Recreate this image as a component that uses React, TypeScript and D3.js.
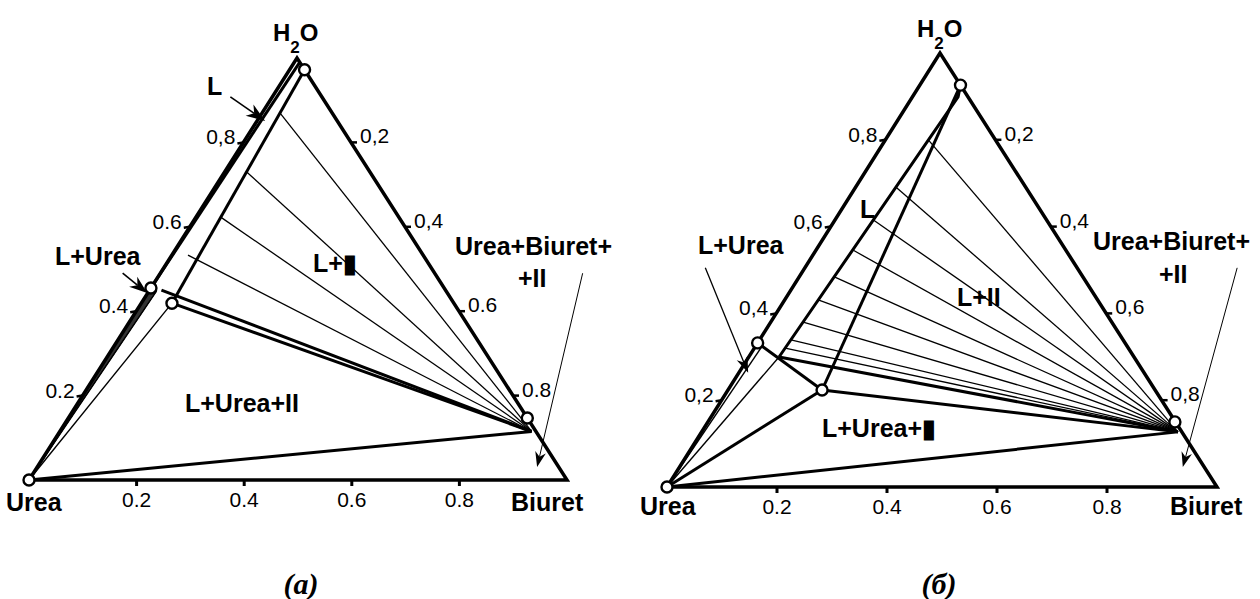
import React from 'react';
import { scaleLinear, line } from 'd3';

// composition = [water fraction, biuret fraction]; urea is the remainder
type Comp = [number, number];

const tickValues = [0.2, 0.4, 0.6, 0.8];
const bottomTickLabels = ['0.2', '0.4', '0.6', '0.8'];

// ---- diagram (a)
const leftTickLabelsA = ['0.2', '0.4', '0.6', '0,8'];
const rightTickLabelsA = ['0,2', '0,4', '0.6', '0.8'];
const circlesA: Comp[] = [[0, 0], [0.972, 0.028], [0.455, 0], [0.419, 0.057], [0.147, 0.853]];
const liquidusA: Comp[] = [[0.455, 0], [0.988, 0.01]];
const boundaryA: Comp[] = [[0.419, 0.057], [0.972, 0.028]];
const compoundA: Comp = [0.115, 0.877];
const toCompoundA: Comp[] = [[0.45, 0.022], [0.419, 0.057]];
const ureaRaysA: Comp[] = [[0.447, 0.014], [0.419, 0.057]];
const hatchA: Comp[] = [[0, 0], [0.455, 0], [0.447, 0.014]];
const tieStartsA: Comp[] = [[0.87, 0.033], [0.73, 0.041], [0.623, 0.046], [0.533, 0.03]];
const arrowsA: { from: Comp; to: Comp; head: number; w: number }[] = [
  { from: [0.908, -0.078], to: [0.851, 0.015], head: 19, w: 1.6 },
  { from: [0.49, -0.07], to: [0.443, -0.001], head: 18, w: 1.6 },
  { from: [0.49, 0.785], to: [0.031, 0.929], head: 15, w: 1 },
];

// ---- diagram (b)
const leftTickLabelsB = ['0,2', '0,4', '0,6', '0,8'];
const rightTickLabelsB = ['0,2', '0,4', '0,6', '0,8'];
const circlesB: Comp[] = [[0, 0], [0.926, 0.074], [0.332, 0], [0.2235, 0.171], [0.15, 0.849]];
const liquidusB: Comp[] = [[0.2995, 0.055], [0.899, 0.083], [0.926, 0.074]];
const boundaryB: Comp[] = [[0.2235, 0.171], [0.926, 0.074]];
const eutonicB: Comp[] = [[0.332, 0], [0.2235, 0.171]];
const compoundB: Comp = [0.127, 0.866];
const toCompoundB: Comp[] = [[0.2995, 0.055], [0.2235, 0.171]];
const ureaRaysB: Comp[] = [[0.325, 0.012], [0.2995, 0.055], [0.2235, 0.171]];
const tieStartsB: Comp[] = [
  [0.32, 0.056], [0.339, 0.057], [0.38, 0.059], [0.431, 0.061], [0.484, 0.064],
  [0.546, 0.067], [0.615, 0.07], [0.691, 0.073], [0.8, 0.078],
];
const arrowsB: { from: Comp; to: Comp; head: number; w: number }[] = [
  { from: [0.505, -0.181], to: [0.263, 0.017], head: 16, w: 1.3 },
  { from: [0.505, 0.786], to: [0.046, 0.915], head: 15, w: 1 },
];

const frameA = { left: 29, right: 567, apexX: 297, baseY: 480, apexY: 58 };
const frameB = { left: 667, right: 1217, apexX: 940, baseY: 487, apexY: 53 };

const sans = '"Liberation Sans", Arial, sans-serif';

type Frame = typeof frameA;

const project = (f: Frame) => {
  const yScale = scaleLinear().domain([0, 1]).range([f.baseY, f.apexY]);
  const xBiuret = scaleLinear().domain([0, 1]).range([f.left, f.right]);
  const xWater = scaleLinear().domain([0, 1]).range([0, f.apexX - f.left]);
  return (c: Comp): [number, number] => [xBiuret(c[1]) + xWater(c[0]), yScale(c[0])];
};

const Arrow = ({ p, a }: { p: (c: Comp) => [number, number]; a: { from: Comp; to: Comp; head: number; w: number } }) => {
  const [x1, y1] = p(a.from);
  const [x2, y2] = p(a.to);
  const ang = Math.atan2(y2 - y1, x2 - x1);
  const hw = a.head * 0.36;
  const bx = x2 - a.head * Math.cos(ang);
  const by = y2 - a.head * Math.sin(ang);
  const nx = -Math.sin(ang) * hw;
  const ny = Math.cos(ang) * hw;
  const mx = x2 - a.head * 0.7 * Math.cos(ang);
  const my = y2 - a.head * 0.7 * Math.sin(ang);
  return (
    <g>
      <line x1={x1} y1={y1} x2={mx} y2={my} stroke="#000" strokeWidth={a.w} />
      <path d={`M${x2},${y2}L${bx + nx},${by + ny}L${mx},${my}L${bx - nx},${by - ny}Z`} fill="#000" />
    </g>
  );
};

const Diagram = ({ f, leftLabels, rightLabels, circles, lines, thin, hatch, ties, compound, arrows, bottomBase }: any) => {
  const p = project(f);
  const path = line<Comp>().x(d => p(d)[0]).y(d => p(d)[1]);
  return (
    <g>
      {hatch && <path d={path(hatch) + 'Z'} fill="#333" stroke="#000" strokeWidth={1} />}
      {ties.map((t: Comp, i: number) => (
        <path key={'t' + i} d={path([t, compound]) as string} stroke="#000" strokeWidth={1.3} fill="none" />
      ))}
      {thin.map((l: Comp[], i: number) => (
        <path key={'n' + i} d={path(l) as string} stroke="#000" strokeWidth={1.4} fill="none" />
      ))}
      {lines.map((l: Comp[], i: number) => (
        <path key={'l' + i} d={path(l) as string} stroke="#000" strokeWidth={3} fill="none" strokeLinejoin="round" />
      ))}
      <path d={path([[0, 0], [1, 0], [0, 1]]) + 'Z'} stroke="#000" strokeWidth={3.5} fill="none" strokeLinejoin="miter" />
      {tickValues.map((v, i) => {
        const [lx, ly] = p([v, 0]);
        const [rx, ry] = p([1 - v, v]);
        const [bx, by] = p([0, v]);
        return (
          <g key={'k' + i} fontFamily={sans} fontSize={21}>
            <line x1={lx} y1={ly} x2={lx - 6} y2={ly + 1} stroke="#000" strokeWidth={2.5} />
            <text x={lx - 8} y={ly + 2} textAnchor="end">{leftLabels[i]}</text>
            <line x1={rx} y1={ry} x2={rx + 6} y2={ry} stroke="#000" strokeWidth={2.5} />
            <text x={rx + 9} y={ry + 1}>{rightLabels[i]}</text>
            <line x1={bx} y1={by} x2={bx} y2={by + 6} stroke="#000" strokeWidth={3} />
            <text x={bx} y={bottomBase} textAnchor="middle">{bottomTickLabels[i]}</text>
          </g>
        );
      })}
      {arrows.map((a: any, i: number) => <Arrow key={'a' + i} p={p} a={a} />)}
      {circles.map((c: Comp, i: number) => {
        const [cx, cy] = p(c);
        return <circle key={'c' + i} cx={cx} cy={cy} r={5.5} fill="#fff" stroke="#000" strokeWidth={2.4} />;
      })}
    </g>
  );
};

const Label = ({ x, y, children }: { x: number; y: number; children: React.ReactNode }) => (
  <text x={x} y={y} fontFamily={sans} fontWeight="bold" fontSize={25}>{children}</text>
);

const Water = ({ x, y }: { x: number; y: number }) => (
  <text x={x} y={y} fontFamily={sans} fontWeight="bold" fontSize={24}>
    H<tspan fontSize={17} dy={12}>2</tspan><tspan dy={-12}>O</tspan>
  </text>
);

export default function App() {
  return (
    <svg width={1260} height={599} style={{ position: 'absolute', left: 0, top: 0, background: '#fff' }}>
      <Diagram
        f={frameA}
        leftLabels={leftTickLabelsA}
        rightLabels={rightTickLabelsA}
        circles={circlesA}
        hatch={hatchA}
        ties={tieStartsA}
        compound={compoundA}
        arrows={arrowsA}
        bottomBase={507}
        lines={[liquidusA, boundaryA, ...toCompoundA.map(c => [c, compoundA]), [[0, 0], compoundA]]}
        thin={ureaRaysA.map(c => [[0, 0], c])}
      />
      <Diagram
        f={frameB}
        leftLabels={leftTickLabelsB}
        rightLabels={rightTickLabelsB}
        circles={circlesB}
        hatch={null}
        ties={tieStartsB}
        compound={compoundB}
        arrows={arrowsB}
        bottomBase={514}
        lines={[liquidusB, boundaryB, eutonicB, ...toCompoundB.map(c => [c, compoundB]), [[0, 0], compoundB], [[0, 0], ureaRaysB[2]]]}
        thin={ureaRaysB.slice(0, 2).map(c => [[0, 0], c])}
      />
      <Water x={273} y={41} />
      <Label x={207} y={95}>L</Label>
      <Label x={55} y={265}>L+Urea</Label>
      <Label x={185} y={412}>L+Urea+II</Label>
      <Label x={313} y={272}>L+▮</Label>
      <Label x={455} y={255}>Urea+Biuret+</Label>
      <Label x={518} y={287}>+II</Label>
      <Label x={6} y={511}>Urea</Label>
      <Label x={511} y={511}>Biuret</Label>

      <Water x={917} y={37} />
      <Label x={860} y={218}>L</Label>
      <Label x={698} y={254}>L+Urea</Label>
      <Label x={957} y={306}>L+II</Label>
      <Label x={822} y={437}>L+Urea+▮</Label>
      <Label x={1093} y={250}>Urea+Biuret+</Label>
      <Label x={1159} y={283}>+II</Label>
      <Label x={640} y={515}>Urea</Label>
      <Label x={1170} y={515}>Biuret</Label>

      <text x={301} y={594} textAnchor="middle" fontFamily='"Liberation Serif", serif' fontWeight="bold" fontStyle="italic" fontSize={30}>(a)</text>
      <text x={939} y={594} textAnchor="middle" fontFamily='"Liberation Serif", serif' fontWeight="bold" fontStyle="italic" fontSize={30}>(б)</text>
    </svg>
  );
}
